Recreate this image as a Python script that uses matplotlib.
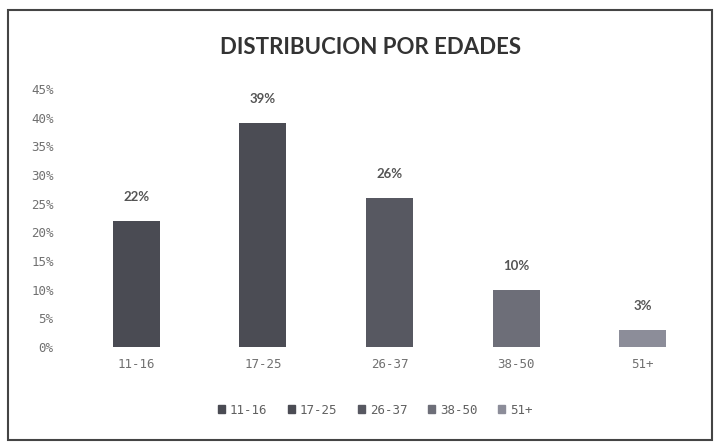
import matplotlib
matplotlib.use("Agg")
import matplotlib.pyplot as plt
from matplotlib.patches import Rectangle
from matplotlib.ticker import FuncFormatter, MultipleLocator

categories = ["11-16", "17-25", "26-37", "38-50", "51+"]
values = [0.22, 0.39, 0.26, 0.10, 0.03]
value_labels = ["22%", "39%", "26%", "10%", "3%"]
title = "DISTRIBUCION POR EDADES"
colors = ["#4a4b53", "#4b4c54", "#575861", "#6d6e78", "#8c8d99"]

fig = plt.figure(figsize=(7.16, 4.42), dpi=100)
fig.patch.set_facecolor("white")
fig.patches.append(Rectangle((8/716, 2/442), 704/716, 430/442, transform=fig.transFigure,
                             fill=False, edgecolor="#444444", linewidth=1.5))

ax = fig.add_axes([73/716, 95/442, 633/716, 258/442])
x = list(range(len(categories)))
bars = ax.bar(x, values, width=0.37, color=colors, label=None)
ax.set_xlim(-0.5, len(categories) - 0.5)
ax.set_ylim(0, 0.45)
ax.yaxis.set_major_locator(MultipleLocator(0.05))
ax.yaxis.set_major_formatter(FuncFormatter(lambda v, p: f"{round(v*100)}%"))
for s in ax.spines.values():
    s.set_visible(False)
ax.tick_params(axis="both", length=0, colors="#707070", labelsize=9)
ax.tick_params(axis="y", pad=14)
ax.tick_params(axis="x", pad=8)
ax.set_xticks(x)
ax.set_xticklabels(categories, family="DejaVu Sans Mono")
for lab in ax.get_yticklabels():
    lab.set_family("DejaVu Sans Mono")
    lab.set_horizontalalignment("right")

for xi, v, lab in zip(x, values, value_labels):
    ax.annotate(lab, (xi, v), xytext=(0, 13), textcoords="offset points",
                ha="center", va="bottom", fontsize=9.5, fontweight="bold", color="#555555",
                family="Lato")

fig.text(371/716, 1 - 48/442, title, ha="center", va="center", fontsize=16,
         fontweight="bold", color="#333333", family="Lato")

handles = [Rectangle((0, 0), 1, 1, color=c) for c in colors]
leg = fig.legend(handles, categories, loc="center", bbox_to_anchor=(375/716, 1 - 410/442),
                 ncol=5, frameon=False, handlelength=0.6, handleheight=0.6,
                 handletextpad=0.4, columnspacing=1.6,
                 prop={"family": "DejaVu Sans Mono", "size": 9})
for t in leg.get_texts():
    t.set_color("#606060")

fig.savefig("out.png", dpi=100)
